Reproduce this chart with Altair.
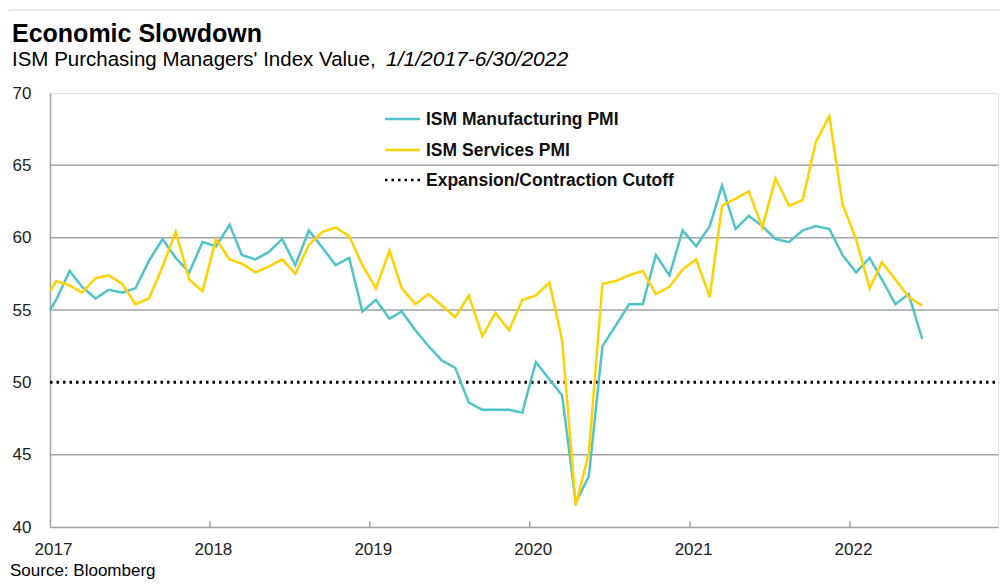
import altair as alt
import pandas as pd

# ---------------- data ----------------
month_dates = [f"{y}-{m:02d}-15" for y in range(2017, 2023) for m in range(1, 13)][:66]
start_date = "2017-01-01"
end_date = "2022-12-05"

manufacturing_start = 55.0
services_start = 56.3

manufacturing = [
    55.7, 57.7, 56.6, 55.8, 56.4, 56.2, 56.5, 58.4, 59.9, 58.6, 57.6, 59.7,   # 2017
    59.4, 60.9, 58.8, 58.5, 59.0, 59.9, 58.1, 60.5, 59.3, 58.1, 58.6, 54.9,   # 2018
    55.7, 54.4, 54.9, 53.6, 52.5, 51.5, 51.0, 48.6, 48.1, 48.1, 48.1, 47.9,   # 2019
    51.4, 50.2, 49.1, 41.7, 43.5, 52.5, 53.9, 55.4, 55.4, 58.8, 57.4, 60.5,   # 2020
    59.4, 60.8, 63.6, 60.6, 61.5, 60.8, 59.9, 59.7, 60.5, 60.8, 60.6, 58.8,   # 2021
    57.6, 58.6, 57.1, 55.4, 56.1, 53.0,                                       # 2022
]
services = [
    57.0, 56.7, 56.2, 57.2, 57.4, 56.8, 55.4, 55.8, 58.0, 60.4, 57.1, 56.3,   # 2017
    59.9, 58.5, 58.2, 57.6, 58.0, 58.5, 57.5, 59.5, 60.4, 60.7, 60.1, 58.1,   # 2018
    56.5, 59.1, 56.5, 55.4, 56.1, 55.3, 54.5, 56.0, 53.2, 54.8, 53.6, 55.7,   # 2019
    56.0, 56.9, 52.9, 41.5, 45.1, 56.8, 57.0, 57.4, 57.7, 56.1, 56.6, 57.8,   # 2020
    58.5, 55.9, 62.2, 62.7, 63.2, 60.7, 64.1, 62.2, 62.6, 66.6, 68.4, 62.3,   # 2021
    59.9, 56.5, 58.3, 57.1, 55.9, 55.3,                                       # 2022
]
cutoff_value = 50

series_names = ["ISM Manufacturing PMI", "ISM Services PMI", "Expansion/Contraction Cutoff"]
series_colors = ["#4FC3C7", "#FFD100", "#000000"]
series_dashes = [[1, 0], [1, 0], [2.5, 4]]
series_widths = [2.5, 2.5, 3]

y_ticks = [40, 45, 50, 55, 60, 65, 70]
grid_values = [45, 55, 60, 65]
tick_years = [2017, 2018, 2019, 2020, 2021, 2022]
year_tick_dates = ["2018-01-01", "2019-01-01", "2020-01-01", "2021-01-01", "2022-01-01"]

title_text = "Economic Slowdown"
subtitle_text = "ISM Purchasing Managers' Index Value,"
subtitle_italic = "1/1/2017-6/30/2022"
source_text = "Source: Bloomberg"

# ---------------- tables ----------------
rows = [{"date": start_date, "value": cutoff_value, "series": series_names[2]},
        {"date": end_date, "value": cutoff_value, "series": series_names[2]}]
for name, s0, vals in [(series_names[0], manufacturing_start, manufacturing),
                       (series_names[1], services_start, services)]:
    rows.append({"date": start_date, "value": s0, "series": name})
    rows += [{"date": d, "value": v, "series": name} for d, v in zip(month_dates, vals)]
df = pd.DataFrame(rows)

SANS = "Liberation Sans"
GRID = "#a3a3a3"

x_scale = alt.Scale(domain=[alt.DateTime(year=2017, month=1, date=1, utc=True),
                            alt.DateTime(year=2022, month=12, date=5, utc=True)])
y_scale = alt.Scale(domain=[40, 70], nice=False, zero=False)

x_axis = alt.Axis(
    title=None, values=[alt.DateTime(year=y, month=1, date=1, utc=True) for y in tick_years],
    format="%Y", formatType="utc", grid=False, ticks=False, domain=True, domainColor=GRID,
    domainWidth=1.5, labelFont=SANS, labelFontSize=17, labelColor="#222222",
    labelPadding=14, labelOffset=3, labelFlush=False, labelOverlap=False)
y_axis = alt.Axis(
    title=None, values=y_ticks, grid=False, ticks=False, domain=True, domainColor=GRID,
    domainWidth=1.5, labelFont=SANS, labelFontSize=17, labelColor="#222222",
    labelPadding=19)

grid = alt.Chart(pd.DataFrame({"g": grid_values})).mark_rule(
    color=GRID, strokeWidth=1.5).encode(y=alt.Y("g:Q", scale=y_scale, axis=y_axis))

year_ticks = alt.Chart(pd.DataFrame({"d": year_tick_dates})).mark_rule(
    color=GRID, strokeWidth=1.5).encode(
    x=alt.X("d:T", scale=x_scale, axis=x_axis),
    y=alt.Y("lo:Q", scale=y_scale, axis=y_axis), y2="hi:Q").transform_calculate(
    lo="40", hi="40.4")

color_enc = alt.Color("series:N", scale=alt.Scale(domain=series_names, range=series_colors),
                      legend=None)
dash_enc = alt.StrokeDash("series:N", scale=alt.Scale(domain=series_names, range=series_dashes),
                          legend=None)

base = alt.Chart(df).encode(
    x=alt.X("date:T", scale=x_scale, axis=x_axis),
    y=alt.Y("value:Q", scale=y_scale, axis=y_axis),
    color=color_enc, strokeDash=dash_enc)
lines = [base.transform_filter(alt.datum.series == series_names[i]).mark_line(
    strokeWidth=series_widths[i]) for i in (2, 0, 1)]

# ---------------- legend (drawn inside the plot, top centre) ----------------
legend_rows_y = [26, 57, 87]
legend_layers = []
for i, name in enumerate(series_names):
    ldf = pd.DataFrame({"t": [name]})
    legend_layers.append(alt.Chart(ldf).mark_rule(
        color=series_colors[i], strokeWidth=series_widths[i] if i < 2 else 2.5,
        strokeDash=series_dashes[i]).encode(
        x=alt.value(335), x2=alt.value(370), y=alt.value(legend_rows_y[i])))
    legend_layers.append(alt.Chart(ldf).mark_text(
        align="left", baseline="middle", font=SANS, fontSize=17.5, fontWeight="bold",
        color="#111111", dy=1).encode(
        text="t:N", x=alt.value(376), y=alt.value(legend_rows_y[i])))

def label(text, x, y, size, weight="normal", style="normal"):
    return alt.Chart(pd.DataFrame({"t": [text]})).mark_text(
        align="left", baseline="alphabetic", font=SANS, fontSize=size,
        fontWeight=weight, fontStyle=style, color="#000000").encode(
        text="t:N", x=alt.value(x), y=alt.value(y))

texts = [label(title_text, -38, -51, 25, weight="bold"),
         label(subtitle_text, -38, -27, 20.5),
         label(subtitle_italic, 336, -27, 21, style="italic"),
         label(source_text, -40, 483, 17)]

frame = alt.Chart(pd.DataFrame({"f": [0]})).mark_rect(
    fill="transparent", stroke="#d9d9d9", strokeWidth=1.2, cornerRadius=6).encode(
    x=alt.value(-45), x2=alt.value(990), y=alt.value(-83), y2=alt.value(540))

chart = alt.layer(grid, year_ticks, *lines, *legend_layers, *texts, frame).properties(
    width=948, height=434,
    padding={"left": 42, "top": 85, "right": 2, "bottom": 53},
    autosize=alt.AutoSizeParams(type="none"),
).configure_view(stroke=GRID, strokeWidth=1.5).configure(background="white")

chart.save("out.html", embed_options={"renderer": "svg", "actions": False})
